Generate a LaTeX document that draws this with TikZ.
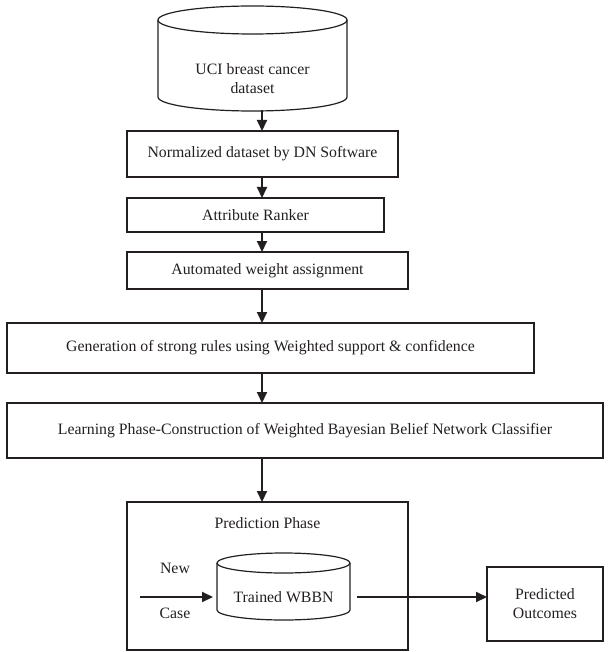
\documentclass[tikz,border=0pt]{standalone}
\usepackage{fontspec}
\setmainfont{Liberation Serif}
\usetikzlibrary{arrows.meta}
\definecolor{ink}{HTML}{231F20}
\begin{document}
\begin{tikzpicture}[x=1pt,y=-1pt,
  every node/.style={text=ink, font=\fontsize{15.8}{19}\selectfont},
  box/.style={draw=ink, line width=1.2pt, rectangle, anchor=north west, inner sep=0pt, outer sep=0pt, align=center},
  lbl/.style={inner sep=0pt, outer sep=0pt, align=center},
  cyl/.style={draw=ink, line width=1.2pt},
  arr/.style={draw=ink, line width=2pt, -{Triangle[length=11pt,width=10pt]}}]
\useasboundingbox (0,0) rectangle (608,652);
\coordinate (axis) at (262,0);
% database cylinder
\node[lbl, minimum width=189pt, minimum height=105pt] (c1) at (252.5,58) {};
\draw[cyl] (252.5,20) ellipse [x radius=94.5, y radius=14];
\draw[cyl] (158,20) -- (158,97) arc[start angle=180, end angle=0, x radius=94.5, y radius=14] -- (347,20);
\node[lbl] (c1t) at (252.5,79) {UCI breast cancer\\dataset};
% steps
\node[box, minimum width=271pt, minimum height=46pt] (b1) at (127,131) {Normalized dataset by DN Software};
\node[box, minimum width=257pt, minimum height=34pt] (b2) at (127,198) {Attribute Ranker};
\node[box, minimum width=281pt, minimum height=37pt] (b3) at (127,252) {Automated weight assignment};
\node[box, minimum width=527pt, minimum height=50pt] (b4) at (7,323) {Generation of strong rules using Weighted support \& confidence};
\node[box, minimum width=596pt, minimum height=55pt] (b5) at (7,403) {Learning Phase-Construction of Weighted Bayesian Belief Network Classifier};
\node[box, minimum width=281pt, minimum height=148pt] (pp) at (127,502) {};
\node[lbl] (ppt) at (267.5,523) {Prediction Phase};
% trained model
\draw[cyl] (283.5,563) ellipse [x radius=66.5, y radius=10];
\draw[cyl] (217,563) -- (217,610) arc[start angle=180, end angle=0, x radius=66.5, y radius=10] -- (350,563);
\node[lbl, minimum width=133pt] (c2) at (283.5,597) {Trained WBBN};
\node[lbl] (new) at (175,568) {New};
\node[lbl] (case) at (175,613) {Case};
\node[box, minimum width=116pt, minimum height=74pt] (po) at (487,567) {Predicted\\Outcomes};
\coordinate (nc) at (140,597);
% connectors
\draw[arr] (c1.south -| axis) -- (b1.north -| axis);
\draw[arr] (b1.south -| axis) -- (b2.north -| axis);
\draw[arr] (b2.south -| axis) -- (b3.north -| axis);
\draw[arr] (b3.south -| axis) -- (b4.north -| axis);
\draw[arr] (b4.south -| axis) -- (b5.north -| axis);
\draw[arr] (b5.south -| axis) -- (pp.north -| axis);
\draw[arr, shorten >=4pt] (nc) -- (c2.west);
\draw[arr, shorten <=7pt] (c2.east) -- (po.west |- c2.east);
\end{tikzpicture}
\end{document}
